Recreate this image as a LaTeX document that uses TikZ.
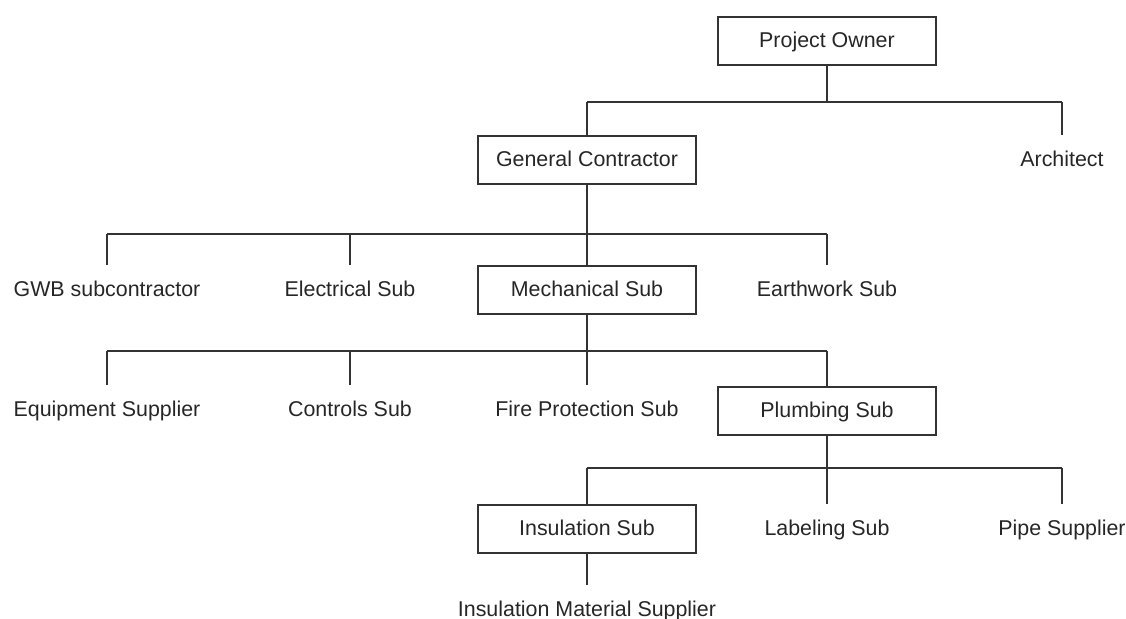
\documentclass[tikz,border=0pt]{standalone}
\usepackage{fontspec}
\setmainfont{Liberation Sans}
\begin{document}
\begin{tikzpicture}[x=0.5pt,y=-0.5pt,
  every node/.style={font=\fontsize{10.7}{12}\selectfont,text=black!85,text height=1.6ex,text depth=0.45ex},
  box/.style={draw=black!80,line width=0.7pt,minimum width=109pt,minimum height=24pt},
  leaf/.style={minimum height=25pt},
  link/.style={draw=black!80,line width=0.7pt}]
\useasboundingbox (0,0) rectangle (1126,618);
% top level
\node[box] (owner) at (827,41) {Project Owner};
\node[box] (gc) at (587,160) {General Contractor};
\node[leaf] (arch) at (1062,160) {Architect};
% under the general contractor
\foreach \x/\n/\lab in {107/gwb/{GWB subcontractor},350/elec/{Electrical Sub},827/earth/{Earthwork Sub}}{
  \node[leaf] (\n) at (\x,290) {\lab};
}
\node[box] (mech) at (587,290) {Mechanical Sub};
% under the mechanical sub
\foreach \x/\n/\lab in {107/equip/{Equipment Supplier},350/ctrl/{Controls Sub},587/fire/{Fire Protection Sub}}{
  \node[leaf] (\n) at (\x,410) {\lab};
}
\node[box] (plumb) at (827,411) {Plumbing Sub};
% under the plumbing sub
\node[box] (insul) at (587,529) {Insulation Sub};
\foreach \x/\n/\lab in {827/lbl/{Labeling Sub},1062/pipe/{Pipe Supplier}}{
  \node[leaf] (\n) at (\x,529) {\lab};
}
\node[leaf] (insmat) at (587,610) {Insulation Material Supplier};

% bus lines
\coordinate (busa) at (827,102);
\coordinate (busb) at (587,234);
\coordinate (busc) at (587,351);
\coordinate (busd) at (827,468);

\draw[link] (owner) -- (busa);
\draw[link] (gc |- busa) -- (arch |- busa);
\foreach \n in {gc,arch} \draw[link] (\n |- busa) -- (\n);

\draw[link] (gc) -- (mech);
\draw[link] (gwb |- busb) -- (earth |- busb);
\foreach \n in {gwb,elec,earth} \draw[link] (\n |- busb) -- (\n);

\draw[link] (mech) -- (busc);
\draw[link] (equip |- busc) -- (plumb |- busc);
\foreach \n in {equip,ctrl,fire,plumb} \draw[link] (\n |- busc) -- (\n);

\draw[link] (plumb) -- (lbl);
\draw[link] (insul |- busd) -- (pipe |- busd);
\foreach \n in {insul,pipe} \draw[link] (\n |- busd) -- (\n);

\draw[link] (insul) -- (insmat);
\end{tikzpicture}
\end{document}
